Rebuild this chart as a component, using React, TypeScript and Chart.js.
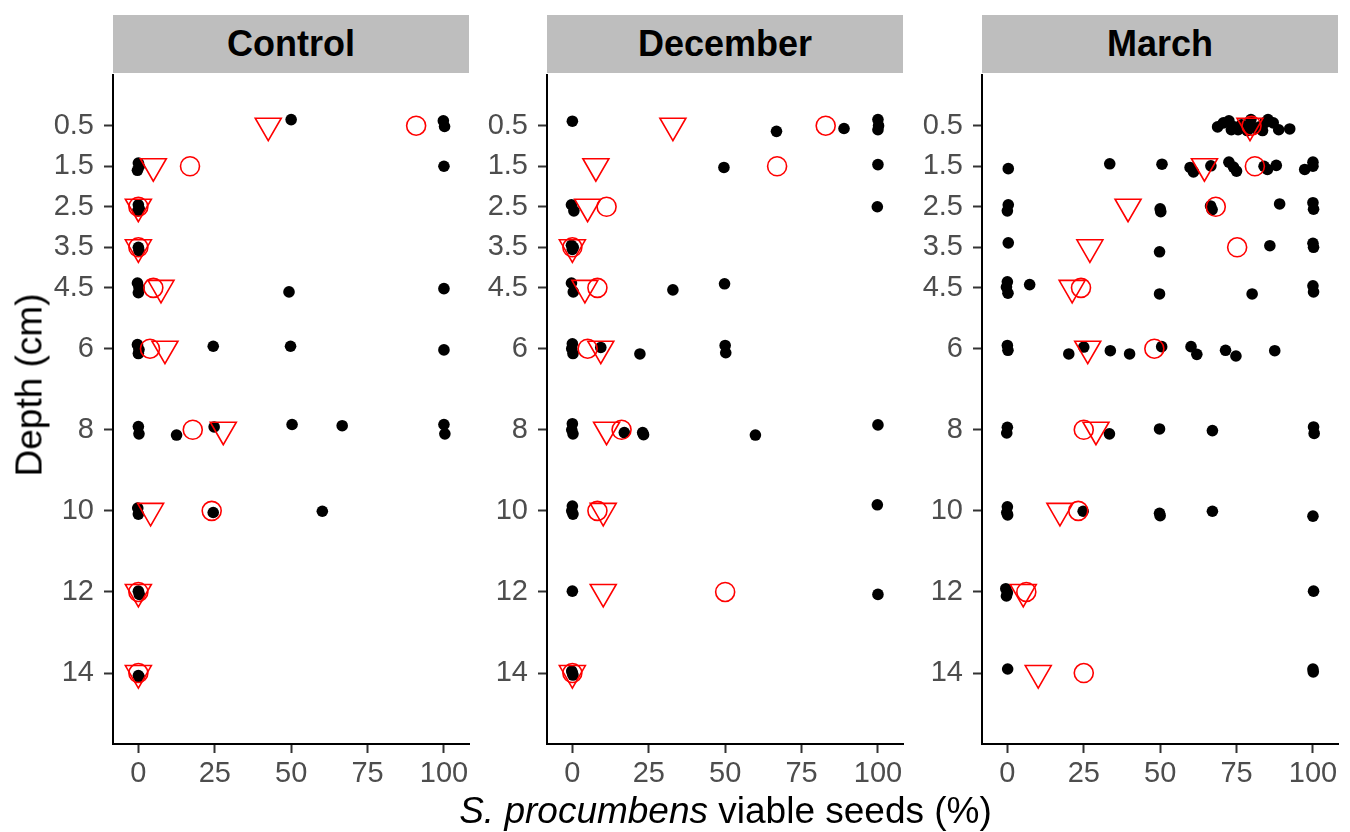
import React, { useEffect, useRef } from 'react';
import { Chart, registerables } from 'chart.js';

Chart.register(...registerables);

// ---------- data ----------
const panelNames = ['Control', 'December', 'March'];
const depthTicks = [0.5, 1.5, 2.5, 3.5, 4.5, 6, 8, 10, 12, 14];
const xTicks = [0, 25, 50, 75, 100];

// red open circles (one per depth)
const controlCircleX = [90.9, 16.9, 0, 0, 4.9, 3.8, 17.8, 24, 0, 0];
const decemberCircleX = [82.9, 67, 11.2, 0, 8.2, 5, 16.1, 8.2, 50, 0];
const marchCircleX = [79.9, 81, 68.2, 75.2, 24.1, 48.1, 25, 23.2, 6.2, 25];

// red open down-triangles (one per depth)
const controlTriangleX = [42.5, 4.9, 0, 0, 7.4, 8.7, 27.8, 4, 0, 0];
const decemberTriangleX = [32.9, 7.7, 5, 0, 4.1, 9.3, 11.2, 10.1, 10.1, 0];
const marchTriangleX = [79.4, 64.5, 39.5, 27, 21.2, 26.3, 29, 17.2, 5.2, 10.1];

// black jittered observations
const controlDotX = [50, 99.8, 100.2, 0, -0.3, 0.3, 100, 0, 0.3, -0.2, 0, 0.2, -0.3, 0.2, 0, 49.3, 100, -0.3, 0.2, 0, 24.5, 49.8, 100, 0, 0.2, 12.5, 24.8, 50.3, 66.7, 100, 100.3, -0.2, 0, 24.5, 60.2, 0, 0.3, 0, 0.3];
const controlDotDepth = [0.35, 0.38, 0.52, 1.42, 1.6, 1.5, 1.5, 2.45, 2.55, 2.6, 3.5, 3.58, 4.38, 4.5, 4.62, 4.6, 4.52, 5.9, 6.02, 6.12, 5.94, 5.94, 6.03, 7.92, 8.1, 8.13, 7.93, 7.87, 7.9, 7.87, 8.1, 9.93, 10.08, 10.04, 10.01, 11.98, 12.06, 14.06, 14.1];

const decemberDotX = [0, 66.8, 88.9, 100, 100.2, 100, 49.6, 100, -0.3, 0.5, 99.8, -0.3, 0, 0.3, -0.3, 0.3, 32.9, 49.8, 0, -0.2, 0.2, 9.3, 22.1, 50, 50.2, 0, -0.2, 0.2, 17, 23, 23.3, 59.9, 100, 0, -0.2, 0.2, 99.8, 0, 100, -0.2, 0, 0.2];
const decemberDotDepth = [0.39, 0.64, 0.57, 0.35, 0.5, 0.6, 1.53, 1.46, 2.45, 2.6, 2.5, 3.45, 3.55, 3.5, 4.38, 4.6, 4.55, 4.4, 5.88, 6.0, 6.12, 5.97, 6.13, 5.92, 6.1, 7.85, 8.0, 8.1, 8.07, 8.07, 8.12, 8.13, 7.88, 9.88, 10.0, 10.08, 9.85, 11.98, 12.06, 13.95, 14.0, 14.05];

const marchDotX = [
  68.8, 70.7, 72.5, 73.3, 74.2, 75.5, 76.6, 77.9, 78.5, 79.7, 81, 82.6, 83.5, 84.2, 85.3, 87, 88.8, 92.4,
  0.3, 33.5, 50.6, 59.8, 60.9, 66.6, 72.5, 74, 75, 84, 85.1, 88, 97.3, 100, 100,
  0.3, 0, 50, 50.2, 67, 66.5, 89.1, 100, 100.2,
  0.3, 49.8, 85.9, 100, 100.2,
  0, -0.3, 0.2, 7.3, 49.8, 80.1, 100, 100.2,
  0, 0.2, 20.1, 25, 33.7, 40, 50.5, 60.1, 62, 71.4, 74.8, 87.5,
  0, -0.2, 33.4, 49.8, 67.1, 100.2, 100.4,
  0, -0.2, 0.1, 24.8, 49.8, 50, 67.1, 100,
  -0.5, 0, -0.3, 100.2,
  0.1, 100, 100.1,
];
const marchDotDepth = [
  0.53, 0.43, 0.38, 0.6, 0.53, 0.6, 0.48, 0.53, 0.62, 0.35, 0.56, 0.53, 0.62, 0.43, 0.35, 0.43, 0.6, 0.58,
  1.56, 1.44, 1.45, 1.53, 1.64, 1.49, 1.4, 1.52, 1.62, 1.5, 1.58, 1.48, 1.58, 1.4, 1.5,
  2.45, 2.6, 2.55, 2.62, 2.57, 2.48, 2.43, 2.4, 2.56,
  3.39, 3.61, 3.46, 3.4, 3.5,
  4.35, 4.48, 4.63, 4.42, 4.65, 4.65, 4.45, 4.6,
  5.92, 6.04, 6.13, 5.96, 6.05, 6.13, 5.95, 5.95, 6.14, 6.04, 6.18, 6.05,
  7.94, 8.08, 8.1, 7.98, 8.02, 7.93, 8.09,
  9.9, 10.04, 10.1, 10.01, 10.06, 10.12, 10.01, 10.13,
  11.92, 12.02, 12.1, 11.98,
  13.9, 13.9, 13.97,
];

const panelCircles = [controlCircleX, decemberCircleX, marchCircleX];
const panelTriangles = [controlTriangleX, decemberTriangleX, marchTriangleX];
const panelDotX = [controlDotX, decemberDotX, marchDotX];
const panelDotDepth = [controlDotDepth, decemberDotDepth, marchDotDepth];

// ---------- layout ----------
const FONT = '"Liberation Sans", Arial, sans-serif';
const panelLeft = [113, 547, 982];
const panelWidth = 356;
const plotTop = 75;
const plotBottom = 744;
const Y_W = 90;
const X_H = 70;
const PAD_TOP = 10;
const PAD_RIGHT = 30;
const RED = '#FF0000';

export default function App() {
  const refs = [useRef<HTMLCanvasElement>(null), useRef<HTMLCanvasElement>(null), useRef<HTMLCanvasElement>(null)];

  useEffect(() => {
    const charts: Chart[] = [];
    refs.forEach((ref, i) => {
      if (!ref.current) return;
      const tri = panelTriangles[i].map((x, k) => ({ x, y: depthTicks[k] }));
      const circ = panelCircles[i].map((x, k) => ({ x, y: depthTicks[k] }));
      const dots = panelDotX[i].map((x, k) => ({ x, y: panelDotDepth[i][k] }));
      const tickFont = { family: FONT, size: 29 };
      const chart = new Chart(ref.current, {
        type: 'scatter',
        data: {
          datasets: [
            {
              data: tri,
              pointStyle: 'triangle',
              pointRadius: 15,
              pointRotation: 180,
              pointBorderColor: RED,
              pointBackgroundColor: 'rgba(0,0,0,0)',
              pointBorderWidth: 1.6,
              borderColor: RED,
              showLine: false,
            } as any,
            {
              data: circ,
              pointStyle: 'circle',
              pointRadius: 9.5,
              pointBorderColor: RED,
              pointBackgroundColor: 'rgba(0,0,0,0)',
              pointBorderWidth: 1.6,
              borderColor: RED,
              showLine: false,
            } as any,
            {
              data: dots,
              pointStyle: 'circle',
              pointRadius: 5.8,
              pointBorderWidth: 0,
              pointBackgroundColor: '#000000',
              pointBorderColor: '#000000',
              showLine: false,
            } as any,
          ],
        },
        options: {
          animation: false,
          responsive: false,
          maintainAspectRatio: false,
          events: [],
          layout: { autoPadding: false, padding: { top: PAD_TOP, right: PAD_RIGHT, left: 0, bottom: 0 } },
          plugins: { legend: { display: false }, tooltip: { enabled: false }, title: { display: false } },
          scales: {
            x: {
              type: 'linear',
              min: -8.3,
              max: 108.2,
              afterBuildTicks: (s: any) => { s.ticks = xTicks.map((v) => ({ value: v })); },
              afterFit: (s: any) => { s.height = X_H; s.paddingLeft = 0; s.paddingRight = 0; s.paddingTop = 0; s.paddingBottom = 0; },
              grid: { display: true, drawOnChartArea: false, drawTicks: true, tickLength: 9, tickWidth: 2, tickColor: '#333333', color: 'rgba(0,0,0,0)' },
              border: { display: true, color: '#000000', width: 2 },
              ticks: { font: tickFont, color: '#4D4D4D', padding: 4, maxRotation: 0, autoSkip: false, callback: (v: any) => String(v) },
            },
            y: {
              type: 'linear',
              reverse: true,
              min: -0.75,
              max: 15.75,
              afterBuildTicks: (s: any) => { s.ticks = depthTicks.map((v) => ({ value: v })); },
              afterFit: (s: any) => { s.width = Y_W; s.paddingTop = 0; s.paddingBottom = 0; s.paddingLeft = 0; s.paddingRight = 0; },
              grid: { display: true, drawOnChartArea: false, drawTicks: true, tickLength: 9, tickWidth: 2, tickColor: '#333333', color: 'rgba(0,0,0,0)' },
              border: { display: true, color: '#000000', width: 2 },
              ticks: { font: tickFont, color: '#4D4D4D', padding: 10, autoSkip: false, callback: (v: any) => String(v) },
            },
          },
        } as any,
      });
      charts.push(chart);
    });
    return () => charts.forEach((c) => c.destroy());
  }, []);

  const canvasW = Y_W + panelWidth + PAD_RIGHT;
  const canvasH = PAD_TOP + (plotBottom - plotTop) + X_H;

  return (
    <div style={{ position: 'absolute', left: 0, top: 0, width: 1350, height: 832, background: '#ffffff', fontFamily: FONT, overflow: 'hidden' }}>
      {panelNames.map((name, i) => (
        <div
          key={'strip' + i}
          style={{
            position: 'absolute', left: panelLeft[i], top: 15, width: panelWidth, height: 58,
            background: '#BEBEBE', color: '#000', fontWeight: 'bold', fontSize: 36,
            lineHeight: '58px', textAlign: 'center', fontFamily: FONT,
          }}
        >
          {name}
        </div>
      ))}
      {panelNames.map((name, i) => (
        <canvas
          key={'c' + i}
          ref={refs[i]}
          width={canvasW}
          height={canvasH}
          style={{ position: 'absolute', left: panelLeft[i] - Y_W, top: plotTop - PAD_TOP, width: canvasW, height: canvasH }}
        />
      ))}
      <div
        style={{
          position: 'absolute', left: 29, top: 385, transform: 'translate(-50%, -50%) rotate(-90deg)',
          whiteSpace: 'nowrap', fontSize: 37, lineHeight: '37px', color: '#000', fontFamily: FONT,
        }}
      >
        Depth (cm)
      </div>
      <div
        style={{
          position: 'absolute', left: 113, width: 1225, top: 792, textAlign: 'center',
          whiteSpace: 'nowrap', fontSize: 37, lineHeight: '37px', color: '#000', fontFamily: FONT,
        }}
      >
        <i>S. procumbens</i> viable seeds (%)
      </div>
    </div>
  );
}
